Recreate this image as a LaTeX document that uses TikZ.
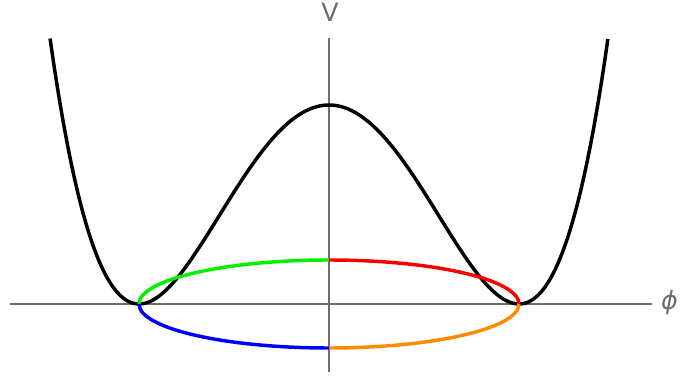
\documentclass[tikz,border=0pt]{standalone}
\usepackage{fontspec}
\setmainfont{DejaVu Sans}
\definecolor{axisgray}{RGB}{110,110,110}
\definecolor{ringgreen}{RGB}{0,240,0}
\definecolor{ringred}{RGB}{250,0,0}
\definecolor{ringblue}{RGB}{0,0,250}
\definecolor{ringorange}{RGB}{255,140,0}
\tikzset{
	axis/.style={axisgray, line width=0.8pt},
	potential/.style={black, line width=2.6pt},
	ring/.style={line width=2.6pt},
	axislabel/.style={axisgray, inner sep=0pt}
}
\begin{document}
\begin{tikzpicture}[x=0.75pt, y=0.75pt]
	\useasboundingbox (0,0) rectangle (680,378);
	
	\coordinate (O) at (329,74);
	\coordinate (xl) at (10,74);
	\coordinate (xr) at (652,74);
	\coordinate (yb) at (329,6);
	\coordinate (yt) at (329,340);
	
	\draw[axis] (xl) -- (xr);
	\draw[axis] (yb) -- (yt);
	
	\node[axislabel, font=\fontsize{19}{22}\selectfont] (V) at (330,365.5) {V};
	\node[axislabel, anchor=east, font=\fontsize{19}{22}\selectfont] (phi) at (678,75) {\itshape ϕ};
	
	\draw[potential] plot[domain=-1.468:1.468, samples=160, smooth] ({329+190*\x}, {74+199*(\x*\x-1)^2});
	
	\coordinate (left) at (139,74);
	\coordinate (top) at (329,118);
	\coordinate (right) at (519,74);
	\coordinate (bottom) at (329,30);
	
	\draw[ring, ringgreen] (left) arc (180:90:190 and 44);
	\draw[ring, ringred] (top) arc (90:0:190 and 44);
	\draw[ring, ringorange] (right) arc (0:-90:190 and 44);
	\draw[ring, ringblue] (bottom) arc (270:180:190 and 44);
\end{tikzpicture}
\end{document}
